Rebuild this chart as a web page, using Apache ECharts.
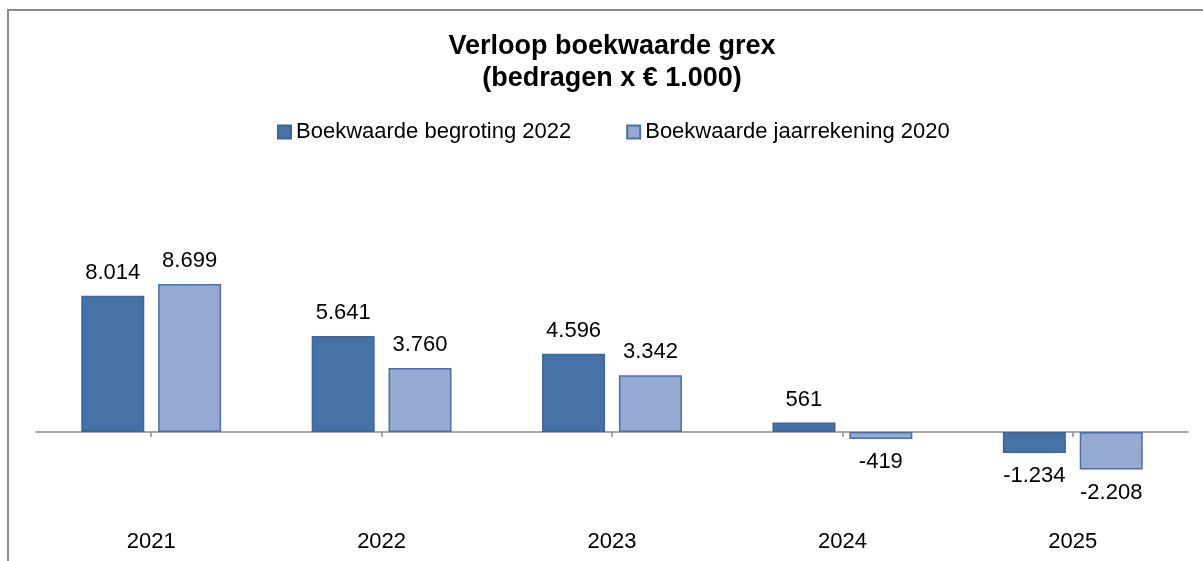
<!DOCTYPE html>
<html>
<head>
<meta charset="utf-8">
<style>
  html, body { margin: 0; padding: 0; background: #fff; }
  #chart { width: 1203px; height: 561px; }
</style>
<script src="https://cdn.jsdelivr.net/npm/echarts@6/dist/echarts.min.js"></script>
</head>
<body>
<div id="chart"></div>
<script>
// Years on the category axis
const years = ['2021', '2022', '2023', '2024', '2025'];
// Book value per year, amounts x € 1.000
const begroting2022 = [8014, 5641, 4596, 561, -1234];
const jaarrekening2020 = [8699, 3760, 3342, -419, -2208];
const seriesNames = ['Boekwaarde begroting 2022', 'Boekwaarde jaarrekening 2020'];
const titleLines = ['Verloop boekwaarde grex', '(bedragen x € 1.000)'];

const FONT = '"Liberation Sans", Arial, sans-serif';

// Dutch number notation: dot as thousands separator
function nl(v) {
  const s = String(Math.abs(v)).replace(/\B(?=(\d{3})+(?!\d))/g, '.');
  return (v < 0 ? '-' : '') + s;
}

// Positive values are labelled above the bar, negative values below it
function withLabels(values) {
  return values.map(v => ({ value: v, label: { position: v < 0 ? 'bottom' : 'top' } }));
}

const barLabel = {
  show: true,
  distance: 12,
  color: '#000',
  fontFamily: FONT,
  fontSize: 22,
  formatter: p => nl(p.value)
};

const chart = echarts.init(document.getElementById('chart'), null, { renderer: 'canvas' });

chart.setOption({
  backgroundColor: '#fff',
  animation: false,
  graphic: [{
    type: 'rect',
    shape: { x: 8, y: 10, width: 1250, height: 600 },
    style: { fill: 'none', stroke: '#8c8c8c', lineWidth: 2 },
    silent: true,
    z: -1
  }],
  title: {
    text: titleLines.join('\n'),
    left: 612,
    top: 31,
    padding: 0,
    textAlign: 'center',
    textStyle: {
      fontFamily: FONT,
      fontSize: 27,
      fontWeight: 'bold',
      lineHeight: 32,
      color: '#000'
    }
  },
  legend: {
    data: seriesNames,
    left: 277,
    top: 121,
    padding: 0,
    itemWidth: 13,
    itemHeight: 13,
    itemGap: 55,
    icon: 'rect',
    textStyle: { fontFamily: FONT, fontSize: 22, color: '#000' }
  },
  grid: { left: 36, right: 15, top: 228, bottom: 61, containLabel: false },
  xAxis: [{
    type: 'category',
    data: years,
    position: 'bottom',
    axisLine: { onZero: true, lineStyle: { color: '#8c8c8c', width: 1.5 } },
    axisTick: { show: true, alignWithLabel: true, length: 5, lineStyle: { color: '#8c8c8c', width: 1.5 } },
    axisLabel: { show: false },
    splitLine: { show: false }
  }, {
    type: 'category',
    data: years,
    position: 'bottom',
    axisLine: { show: false, onZero: false },
    axisTick: { show: false },
    axisLabel: { margin: 31, color: '#000', fontFamily: FONT, fontSize: 22 },
    splitLine: { show: false }
  }],
  yAxis: {
    type: 'value',
    min: -4000,
    max: 12000,
    show: false,
    splitLine: { show: false }
  },
  series: [{
    name: seriesNames[0],
    type: 'bar',
    xAxisIndex: 0,
    barWidth: 63,
    barGap: '22%',
    data: withLabels(begroting2022),
    itemStyle: { color: '#4572A7', borderColor: '#3D6596', borderWidth: 1.5 },
    label: barLabel
  }, {
    name: seriesNames[1],
    type: 'bar',
    xAxisIndex: 0,
    barWidth: 63,
    barGap: '22%',
    data: withLabels(jaarrekening2020),
    itemStyle: { color: '#95AAD2', borderColor: '#4A70A6', borderWidth: 1.5 },
    label: barLabel
  }]
});
</script>
</body>
</html>
